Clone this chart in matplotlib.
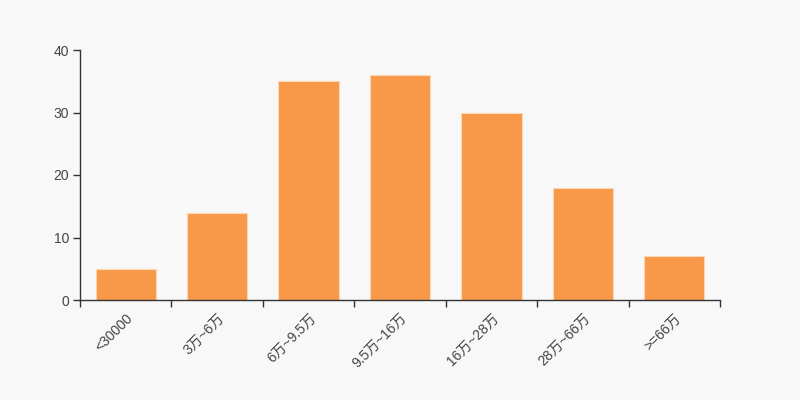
import matplotlib
matplotlib.use("Agg")
import matplotlib.pyplot as plt
import numpy as np

categories = ["<30000", "3万~6万", "6万~9.5万", "9.5万~16万", "16万~28万", "28万~66万", ">=66万"]
values = [5, 14, 35, 36, 30, 18, 7]

plt.rcParams['font.family'] = ['Liberation Sans', 'Noto Sans CJK SC', 'DejaVu Sans']

bg = '#f8f8f8'
fig = plt.figure(figsize=(8, 4), dpi=100, facecolor=bg)
ax = fig.add_axes([0.1, 0.25, 0.8, 0.625], facecolor=bg)

x = np.arange(len(categories))
ax.bar(x, values, width=0.66, color='#f89849', edgecolor='#fbd7b6', linewidth=0.8)

ax.set_xlim(-0.5, len(categories) - 0.5)
ax.set_ylim(0, 40)
ax.set_yticks([0, 10, 20, 30, 40])

ax.set_xticks(np.arange(-0.5, len(categories), 1.0))
ax.set_xticklabels([])
ax.set_xticks(x, minor=True)
ax.set_xticklabels(categories, minor=True, rotation=45, ha='right', rotation_mode='anchor')
ax.tick_params(axis='x', which='minor', length=0, pad=8, labelsize=10, labelcolor='#444444')
ax.tick_params(axis='x', which='major', length=5, color='#333333', width=1)
ax.tick_params(axis='y', length=5, color='#333333', width=1, labelsize=10, labelcolor='#444444', pad=3)

for s in ['top', 'right']:
    ax.spines[s].set_visible(False)
for s in ['left', 'bottom']:
    ax.spines[s].set_color('#333333')
    ax.spines[s].set_linewidth(1)

fig.savefig('out.png', dpi=100, facecolor=bg)
